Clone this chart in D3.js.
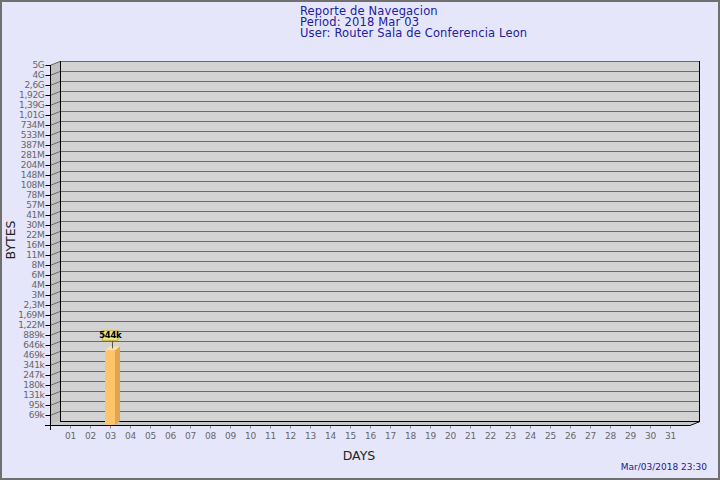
<!DOCTYPE html>
<html><head><meta charset="utf-8">
<script src="https://cdn.jsdelivr.net/npm/d3@7"></script>
<style>html,body{margin:0;padding:0;background:#e6e6fa;}svg{display:block;font-family:"DejaVu Sans",sans-serif;}</style>
</head><body><svg id="c" width="720" height="480"></svg>
<script>
const titleLines = ["Reporte de Navegacion", "Period: 2018 Mar 03", "User: Router Sala de Conferencia Leon"];
const days = ["01","02","03","04","05","06","07","08","09","10","11","12","13","14","15","16","17","18","19","20","21","22","23","24","25","26","27","28","29","30","31"];
const bytes = [0,0,544000,0,0,0,0,0,0,0,0,0,0,0,0,0,0,0,0,0,0,0,0,0,0,0,0,0,0,0,0];
const yTickLabels = ["69k","95k","131k","180k","247k","341k","469k","646k","889k","1,22M","1,69M","2,3M","3M","4M","6M","8M","11M","16M","22M","30M","41M","57M","78M","108M","148M","204M","281M","387M","533M","734M","1,01G","1,39G","1,92G","2,6G","4G","5G"];
const yTickValues = [68.8e3,94.8e3,130.5e3,179.7e3,247.4e3,340.6e3,468.9e3,645.6e3,888.9e3,1.224e6,1.685e6,2.32e6,3.194e6,4.398e6,6.055e6,8.337e6,11.48e6,15.80e6,21.76e6,29.96e6,41.25e6,56.79e6,78.18e6,107.6e6,148.2e6,204.1e6,280.9e6,386.8e6,532.6e6,733.2e6,1.0095e9,1.390e9,1.914e9,2.635e9,3.628e9,4.994e9];
const yMin = 5e4, yMax = 4.994e9;
const stamp = "Mar/03/2018 23:30";

(function(){
const svg = d3.select("#c");
const DX = 10, DY = -4;
const pl = 50, pr = 690, pt = 65, pb = 425;
const y = d3.scaleLog().domain([yMin, yMax]).range([pb, pt]);
const x = d3.scalePoint().domain(days).range([70, 670]);

svg.append("rect").attr("x",1).attr("y",1).attr("width",718).attr("height",478)
  .attr("fill","#e6e6fa").attr("stroke","#707070").attr("stroke-width",2);

svg.append("rect").attr("x",pl+DX).attr("y",pt+DY).attr("width",pr-pl).attr("height",pb-pt).attr("fill","#d3d3d3");
svg.append("polygon").attr("points",[[pl,pt],[pl+DX,pt+DY],[pl+DX,pb+DY],[pl,pb]].join(" ")).attr("fill","#c0c0c0");
svg.append("polygon").attr("points",[[pl,pb],[pl+DX,pb+DY],[pr+DX,pb+DY],[pr,pb]].join(" ")).attr("fill","#c8c8c8");

const grid = svg.append("g");
yTickValues.forEach(v => {
  const yy = Math.round(y(v)) + 0.5;
  grid.append("polyline").attr("points",[[pl,yy],[pl+DX,yy+DY],[pr+DX,yy+DY]].join(" "))
    .attr("fill","none").attr("stroke","#6a6a6a").attr("stroke-width",1);
});
svg.append("line").attr("x1",pl+DX+0.5).attr("x2",pl+DX+0.5).attr("y1",pt+DY).attr("y2",pb+DY).attr("stroke","#000");
svg.append("line").attr("x1",pr+DX-0.5).attr("x2",pr+DX-0.5).attr("y1",pt+DY).attr("y2",pb+DY).attr("stroke","#000");
svg.append("line").attr("x1",pl+DX).attr("x2",pr+DX).attr("y1",pb+DY+0.5).attr("y2",pb+DY+0.5).attr("stroke","#000");
svg.append("line").attr("x1",pr).attr("x2",pr+DX).attr("y1",pb+0.5).attr("y2",pb+DY+0.5).attr("stroke","#000");

const bars = svg.append("g");
days.forEach((d,i) => {
  const v = bytes[i];
  if (!v) return;
  const cx = x(d), yt = y(v), bw = 5, bdx = 5, bdy = -4;
  bars.append("polygon").attr("points",[[cx+bw,yt],[cx+bw+bdx,yt+bdy],[cx+bw+bdx,pb+bdy],[cx+bw,pb]].join(" ")).attr("fill","#e0a64e");
  bars.append("polygon").attr("points",[[cx-bw,yt],[cx-bw+bdx,yt+bdy],[cx+bw+bdx,yt+bdy],[cx+bw,yt]].join(" ")).attr("fill","#fde39a");
  bars.append("rect").attr("x",cx-bw).attr("y",yt).attr("width",2*bw).attr("height",pb-yt).attr("fill","#fdc46c");
  const lx = cx + 2.5;
  bars.append("line").attr("x1",lx).attr("x2",lx).attr("y1",yt-10).attr("y2",yt-2).attr("stroke","#555");
  bars.append("rect").attr("x",cx-7.5).attr("y",yt-19.5).attr("width",15.5).attr("height",9.5)
    .attr("fill","#f0e68c").attr("stroke","#c8b030").attr("stroke-width",1);
  bars.append("text").attr("x",cx+0.3).attr("y",yt-12).attr("text-anchor","middle")
    .attr("font-size",8.5).attr("font-weight","bold").attr("letter-spacing",-0.3).attr("fill","#000").text(Math.round(v/1000)+"k");
});

const yAxis = d3.axisLeft(y).tickValues(yTickValues).tickSize(5).tickPadding(1)
  .tickFormat((v,i) => yTickLabels[i]);
const gy = svg.append("g").attr("transform",`translate(${pl+0.5},0)`).call(yAxis);
gy.select(".domain").remove();
gy.selectAll(".tick").attr("transform", d => `translate(0,${Math.round(y(d))+0.5})`);
gy.selectAll(".tick line").attr("stroke","#000");
gy.selectAll(".tick text").attr("fill","#666").attr("font-size",9).attr("letter-spacing",-0.3).attr("font-family","DejaVu Sans");

const xAxis = d3.axisBottom(x).tickSize(3).tickPadding(4);
const gx = svg.append("g").attr("transform",`translate(0,${pb+0.5})`).call(xAxis);
gx.select(".domain").remove();
gx.selectAll(".tick line").attr("stroke","#888");
gx.selectAll(".tick text").attr("fill","#666").attr("font-size",9).attr("letter-spacing",-0.3).attr("font-family","DejaVu Sans");

svg.append("line").attr("x1",pl+0.5).attr("x2",pl+0.5).attr("y1",pt).attr("y2",pb+5).attr("stroke","#000");
svg.append("line").attr("x1",pl-5).attr("x2",pr).attr("y1",pb+0.5).attr("y2",pb+0.5).attr("stroke","#000");

const tg = svg.append("g").attr("fill","#2020a0").attr("font-size",11.5);
titleLines.forEach((t,i) => tg.append("text").attr("x",300).attr("y",14.5+i*11.2).attr("letter-spacing",0.15).text(t));

svg.append("text").attr("transform","translate(15,240) rotate(-90)").attr("text-anchor","middle")
  .attr("font-size",12.5).attr("fill","#222").text("BYTES");
svg.append("text").attr("x",359).attr("y",459.5).attr("text-anchor","middle")
  .attr("font-size",12.5).attr("fill","#222").text("DAYS");
svg.append("text").attr("x",707).attr("y",470).attr("text-anchor","end")
  .attr("font-size",9).attr("fill","#1a1a8c").text(stamp);
})();
</script></body></html>
